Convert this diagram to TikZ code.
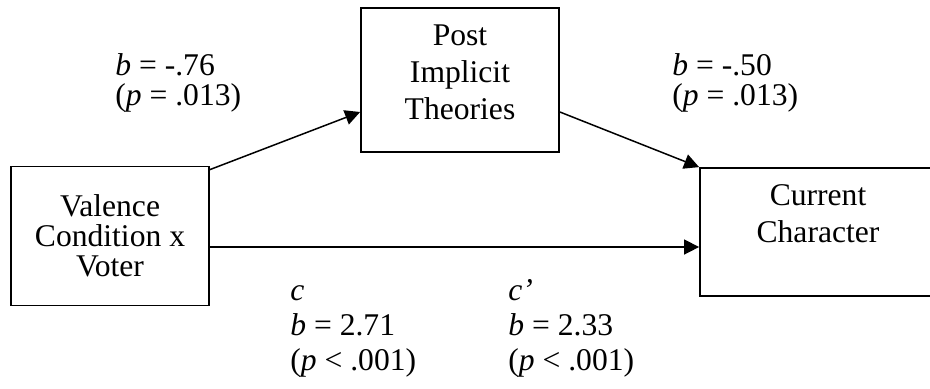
\documentclass[tikz,border=0pt]{standalone}
\usepackage{fontspec}
\setmainfont{Liberation Serif}
\usetikzlibrary{positioning,arrows.meta}

\begin{document}
\begin{tikzpicture}[
x=0.5pt,y=-0.5pt,
box/.style={rectangle,draw,line width=0.9pt,minimum width=99pt,align=center,inner sep=0pt,font=\fontsize{15.8}{18.5}\selectfont},
coef/.style={align=left,anchor=base west,inner sep=0pt,font=\fontsize{15.8}{15}\selectfont},
arrow/.style={-{Triangle[length=7.5pt,width=7.5pt]},line width=0.75pt}
]
\useasboundingbox (0,0) rectangle (930,388);
% variables
\node[box,minimum height=69.5pt,font=\fontsize{15.8}{15}\selectfont] (vc) at (110,236) {Valence\\Condition x\\Voter};
\node[box,minimum height=72pt,text depth=8pt] (pit) at (460,80) {Post\\Implicit\\Theories};
\node[box,minimum width=118pt,minimum height=64pt,text depth=18pt] (cc) at (818,232) {Current\\Character};
% paths
\coordinate (h) at ([yshift=-5.5pt]vc.east);
\draw[arrow] ([yshift=-2pt]vc.north east) -- ([yshift=-16pt]pit.west);
\draw[arrow] ([yshift=-16pt]pit.east) -- (cc.north west);
\draw[arrow] (h) -- (h -| cc.west);
% coefficients
\node[coef] (a) at (115,105) {\textit{b} = -.76\\(\textit{p} = .013)};
\node[coef] (b) at (672,105) {\textit{b} = -.50\\(\textit{p} = .013)};
\node[coef,font=\fontsize{15.8}{17.5}\selectfont] (c) at (290,370) {\textit{c}\\\textit{b} = 2.71\\(\textit{p} {<} .001)};
\node[coef,font=\fontsize{15.8}{17.5}\selectfont] (cp) at (508,370) {\textit{c’}\\\textit{b} = 2.33\\(\textit{p} {<} .001)};
\end{tikzpicture}
\end{document}
